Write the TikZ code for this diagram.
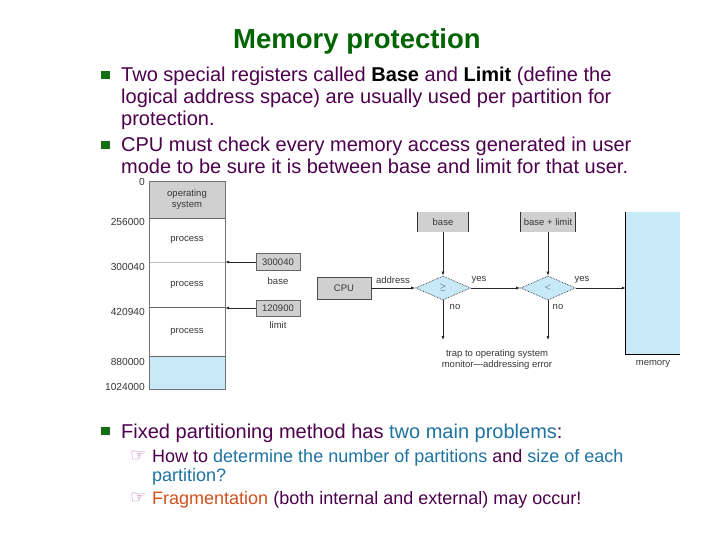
\documentclass[tikz,border=0pt]{standalone}
\usepackage{fontspec}
\setmainfont{Liberation Sans}
\newfontfamily\symf{DejaVu Sans}
\usetikzlibrary{shapes.geometric,arrows.meta}
\definecolor{ttlgreen}{RGB}{0,100,0}
\definecolor{bulgreen}{RGB}{20,110,20}
\definecolor{txtpurple}{RGB}{77,0,77}
\definecolor{teal2}{RGB}{30,115,160}
\definecolor{orange2}{RGB}{210,80,30}
\definecolor{handcol}{RGB}{180,110,185}
\definecolor{boxgrey}{RGB}{208,208,208}
\definecolor{ltblue}{RGB}{200,234,248}
\definecolor{dgtxt}{RGB}{55,55,55}
\tikzset{
  bodytxt/.style={anchor=base west, inner sep=0, text=txtpurple, font=\fontsize{20bp}{22bp}\selectfont},
  subtxt/.style={anchor=base west, inner sep=0, text=txtpurple, font=\fontsize{18bp}{19bp}\selectfont},
  handsym/.style={anchor=base west, inner sep=0, text=handcol, font=\symf\fontsize{18bp}{18bp}\selectfont},
  bulsq/.style={fill=bulgreen, minimum size=8.5bp, inner sep=0},
  dtxt/.style={inner sep=0, text=dgtxt, font=\fontsize{9.5bp}{11bp}\selectfont, align=center},
  numtxt/.style={inner sep=0, text=dgtxt, font=\fontsize{10.2bp}{11bp}\selectfont, anchor=east},
  memreg/.style={minimum width=76bp, inner sep=0, text=dgtxt, font=\fontsize{9.5bp}{11bp}\selectfont, align=center},
  regbox/.style={fill=boxgrey, draw=black!60, line width=0.5bp, minimum width=44bp, inner sep=0, text=dgtxt, font=\fontsize{9.5bp}{11bp}\selectfont},
  topbox/.style={fill=boxgrey, minimum height=20bp, inner sep=0, text=dgtxt, font=\fontsize{9.5bp}{11bp}\selectfont},
  decide/.style={diamond, aspect=2.3, minimum width=55bp, minimum height=24bp, inner sep=0, fill=ltblue, draw=black!80, densely dotted, line width=0.7bp, text=dgtxt, font=\fontsize{8bp}{8bp}\selectfont},
  arr/.style={draw=black!85, line width=0.7bp, -{Latex[length=4bp,width=3bp]}},
}
\begin{document}
\begin{tikzpicture}[x=1bp,y=-1bp]
\useasboundingbox[fill=white] (0,0) rectangle (720,540);
% title
\node[text=ttlgreen, font=\bfseries\fontsize{27.5bp}{30bp}\selectfont, inner sep=0] (title) at (357,41) {Memory protection};
% bullets
\node[bulsq] (b1) at (105.5,75) {};
\node[bulsq] (b2) at (105.5,145) {};
\node[bulsq] (b3) at (105.5,431) {};
\node[bodytxt] (l1) at (121,82) {Two special registers called \textcolor{black}{\textbf{Base}} and \textcolor{black}{\textbf{Limit}} (define the};
\node[bodytxt] (l2) at (121,104) {logical address space) are usually used per partition for};
\node[bodytxt] (l3) at (121,126) {protection.};
\node[bodytxt] (l4) at (121,152) {CPU must check every memory access generated in user};
\node[bodytxt] (l5) at (121,174) {mode to be sure it is between base and limit for that user.};
\node[bodytxt] (l6) at (121,438) {Fixed partitioning method has \textcolor{teal2}{two main problems}:};
\node[handsym] (h1) at (130,461) {☞};
\node[handsym] (h2) at (130,503) {☞};
\node[subtxt] (s1) at (152,462) {How to \textcolor{teal2}{determine the number of partitions} and \textcolor{teal2}{size of each}};
\node[subtxt] (s2) at (152,481) {\textcolor{teal2}{partition?}};
\node[subtxt] (s3) at (152,504) {\textcolor{orange2}{Fragmentation} (both internal and external) may occur!};
% left memory figure
\node[memreg, fill=boxgrey, minimum height=36bp] (os) at (187,200) {operating\\system};
\node[memreg, minimum height=44bp] (p1) at (187,240) {process};
\node[memreg, minimum height=45bp] (p2) at (187,284.5) {process};
\node[memreg, minimum height=49bp] (p3) at (187,331.5) {process};
\node[memreg, fill=ltblue, minimum height=33bp] (fr) at (187,372.5) {};
\draw[black!25, line width=0.5bp] (p1.south west) -- (p1.south east);
\draw[black!60, line width=0.6bp] (os.south west) -- (os.south east);
\draw[black!60, line width=0.6bp] (p2.south west) -- (p2.south east);
\draw[black!60, line width=0.6bp] (p3.south west) -- (p3.south east);
\draw[black!55, line width=0.6bp] (os.north west) rectangle (fr.south east);
% addresses
\node[numtxt] (a0) at (145,182) {0};
\node[numtxt] (a1) at (145,222) {256000};
\node[numtxt] (a2) at (145,267) {300040};
\node[numtxt] (a3) at (145,312) {420940};
\node[numtxt] (a4) at (145,362) {880000};
\node[numtxt] (a5) at (145,387) {1024000};
% registers
\node[regbox, minimum height=17bp] (r1) at (278,262) {300040};
\node[dtxt] (r1l) at (278,281) {base};
\node[regbox, minimum height=16bp] (r2) at (278,308) {120900};
\node[dtxt] (r2l) at (278,325) {limit};
\draw[arr] (r1.west) -- (r1.west -| p1.east);
\draw[arr] (r2.west) -- (r2.west -| p2.east);
% right figure
\node[topbox, minimum width=50bp] (bs) at (443,222) {base};
\node[topbox, minimum width=55bp] (bl) at (548,222) {base + limit};
\draw[black!80, line width=0.7bp] (bs.north west) -- (bs.south west) (bs.north east) -- (bs.south east);
\draw[black!80, line width=0.7bp] (bl.north west) -- (bl.south west) (bl.north east) -- (bl.south east);
\node[fill=boxgrey, draw=black!70, line width=0.6bp, minimum width=54bp, minimum height=22bp, inner sep=0, text=dgtxt, font=\fontsize{9.5bp}{11bp}\selectfont] (cpu) at (344,288) {CPU};
\node[decide] (d1) at (443,288) {$\geq$};
\node[decide] (d2) at (548,288) {$<$};
\node[fill=ltblue, minimum width=54bp, minimum height=142bp, inner sep=0] (mem) at (653,283) {};
\draw[black, line width=0.8bp] (mem.north west) -- (mem.south west) -- (mem.south east);
\node[dtxt] (meml) at (653,364) {memory};
\coordinate (n1) at (443,340);
\coordinate (n2) at (548,340);
\draw[arr] (bs.south) -- (d1.north);
\draw[arr] (bl.south) -- (d2.north);
\draw[arr] (cpu.east) -- (d1.west);
\draw[arr] (d1.east) -- (d2.west);
\draw[arr] (d2.east) -- (d2.east -| mem.west);
\draw[arr] (d1.south) -- (n1);
\draw[arr] (d2.south) -- (n2);
\node[dtxt] (lad) at (393,280) {address};
\node[dtxt] (ly1) at (479,280) {yes};
\node[dtxt] (ly2) at (582,280) {yes};
\node[dtxt] (ln1) at (455,307) {no};
\node[dtxt] (ln2) at (558,307) {no};
\node[dtxt] (trap) at (497,360) {trap to operating system\\monitor---addressing error};
\end{tikzpicture}
\end{document}
